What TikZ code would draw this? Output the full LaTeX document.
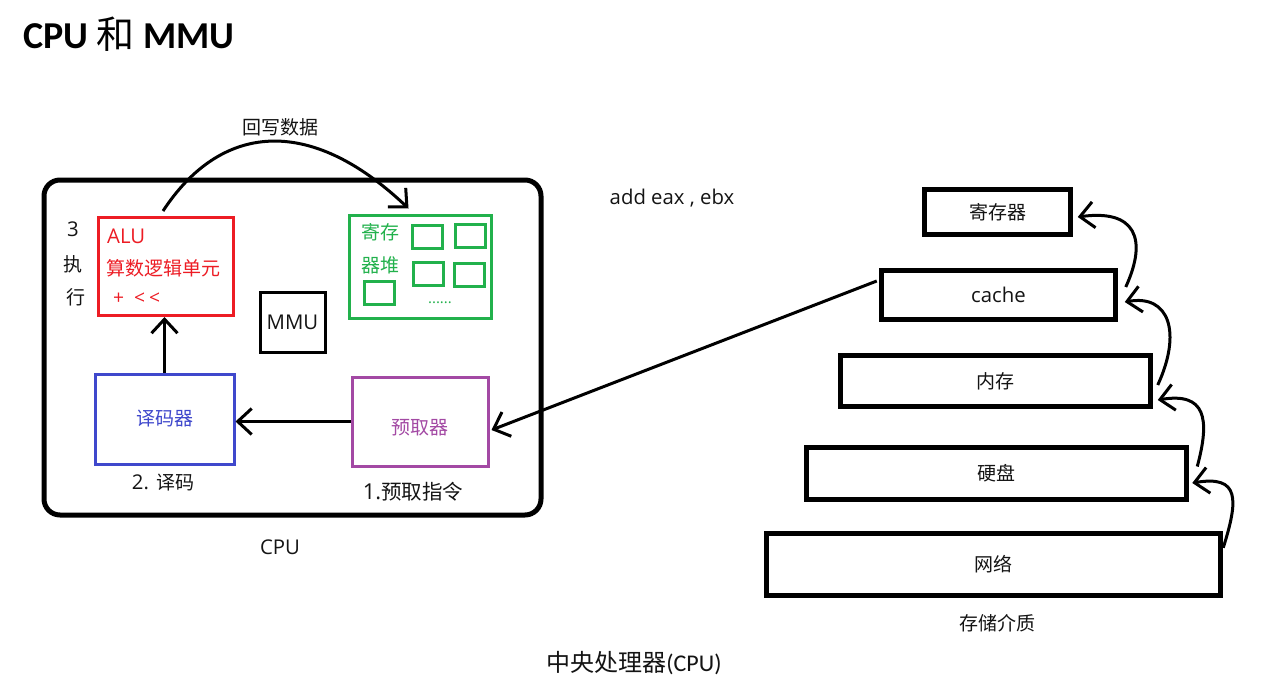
\documentclass[tikz,border=0pt]{standalone}
\usepackage{fontspec}
\setmainfont{Open Sans}[Scale=1.07]
\newfontfamily\cjk{Noto Sans CJK SC}
\newfontfamily\calib{Carlito}
\usetikzlibrary{arrows.meta,calc}
\definecolor{pred}{RGB}{237,28,36}
\definecolor{pgreen}{RGB}{34,177,76}
\definecolor{pblue}{RGB}{63,72,204}
\definecolor{ppurple}{RGB}{163,73,164}
\definecolor{ink}{RGB}{20,20,20}
\begin{document}
\begin{tikzpicture}[x=1pt,y=-1pt,
  box/.style={draw, rectangle, inner sep=0pt, line width=3pt},
  tier/.style={draw=black, rectangle, inner sep=0pt, line width=5.5pt, font=\fontsize{19}{22}\selectfont, text=ink},
  txt/.style={inner sep=0pt, font=\fontsize{19}{22}\selectfont, text=ink},
  arr/.style={line width=3pt, draw=black, -{Straight Barb[length=14pt,width=26pt]}},
  sq/.style={draw=pgreen, rectangle, inner sep=0pt, line width=3pt, minimum width=30pt, minimum height=23pt}]
\fill[white] (0,0) rectangle (1272,699);
\useasboundingbox (0,0) rectangle (1272,699);

% title
\node[anchor=west, inner sep=0pt, font=\fontsize{38}{42}\selectfont] (title) at (23,34) {\calib\bfseries CPU {\cjk\mdseries 和} MMU};

% CPU frame
\node[draw=black, line width=5pt, rounded corners=16pt, minimum width=497pt, minimum height=335pt, inner sep=0pt] (cpu) at (292.5,347.5) {};

% ALU
\node[box, draw=pred, minimum width=135pt, minimum height=98pt] (alu) at (166,266.5) {};
\node[txt, anchor=west, text=pred] (alut) at (107,236) {ALU};
\node[txt, anchor=west, text=pred] (alud) at (106,268) {\cjk 算数逻辑单元};
\node[txt, anchor=west, text=pred, font=\fontsize{18}{20}\selectfont] (aluo) at (113,299) {+\hspace{10pt}<\hspace{4pt}<};
\node[txt] (n3) at (73,229) {3};
\node[txt] (nz) at (73,264) {\cjk 执};
\node[txt] (nh) at (76,297) {\cjk 行};

% register file
\node[box, draw=pgreen, minimum width=142pt, minimum height=103pt] (regs) at (420,266.5) {};
\node[sq] (s1) at (427,237) {};
\node[sq] (s2) at (470.5,236) {};
\node[sq] (s3) at (428.5,273.5) {};
\node[sq] (s4) at (469,274.5) {};
\node[sq] (s5) at (379.5,292.5) {};
\node[txt, text=pgreen] (rg1) at (380,232) {\cjk 寄存};
\node[txt, text=pgreen] (rg2) at (380,265) {\cjk 器堆};
\node[txt, text=pgreen, font=\fontsize{14}{16}\selectfont] (dots) at (440,303) {......};

% MMU
\node[box, draw=black, minimum width=65pt, minimum height=60pt, txt] (mmu) at (292.5,322) {MMU};

% decoder and prefetcher
\node[box, draw=pblue, minimum width=139pt, minimum height=90pt, txt, text=pblue] (dec) at (164.5,419) {\cjk 译码器};
\node[box, draw=ppurple, minimum width=136pt, minimum height=89pt] (pf) at (420,421.5) {};
\node[txt, text=ppurple] (pft) at (420,428) {\cjk 预取器};
\node[txt] (decl) at (163,483) {2. {\cjk 译码}};
\node[txt, font=\fontsize{20.5}{24}\selectfont] (pfl) at (413,492) {1.{\cjk 预取指令}};
\node[txt] (cpul) at (280,547) {CPU};
\node[txt] (wb) at (280,127) {\cjk 回写数据};
\node[txt] (ins) at (672,198) {add eax , ebx};

\draw[arr] (dec.north) -- (dec.north |- alu.south);
\draw[arr] (pf.west) -- (pf.west -| dec.east);
\draw[arr] ([shift={(-3,-5)}]alu.north) .. controls +(57,-87) and +(-100,-95) .. ([shift={(61,-5)}]regs.north west);

% storage hierarchy
\node[tier, minimum width=146pt, minimum height=45pt] (t1) at (997.5,212) {\cjk 寄存器};
\node[tier, minimum width=234pt, minimum height=49pt] (t2) at (998.5,295) {cache};
\node[tier, minimum width=310pt, minimum height=51pt] (t3) at (995.5,381) {\cjk 内存};
\node[tier, minimum width=380pt, minimum height=52pt] (t4) at (996.5,473.5) {\cjk 硬盘};
\node[tier, minimum width=454pt, minimum height=62pt] (t5) at (993.5,564.5) {\cjk 网络};
\node[txt] (stl) at (997,623) {\cjk 存储介质};

\draw[arr] ([shift={(0,17)}]t5.north east) .. controls +(15,-48) and +(48,-8) .. ([shift={(3,9.5)}]t4.east);
\draw[arr] ([shift={(8,-7)}]t4.east) .. controls +(13,-48) and +(48,-8) .. ([shift={(4.5,19)}]t3.east);
\draw[arr] ([shift={(4.5,4)}]t3.east) .. controls +(24,-52) and +(45,-8) .. ([shift={(6.5,7)}]t2.east);
\draw[arr] ([shift={(7.5,-8)}]t2.east) .. controls +(22,-48) and +(58,-8) .. ([shift={(4.5,5)}]t1.east);

\draw[arr] ([shift={(-2,-14)}]t2.west) -- ([shift={(2,8.5)}]pf.east);

\node[txt, font=\fontsize{24}{28}\selectfont] (cap) at (634,663) {{\cjk 中央处理器}{\calib (CPU)}};
\end{tikzpicture}
\end{document}
